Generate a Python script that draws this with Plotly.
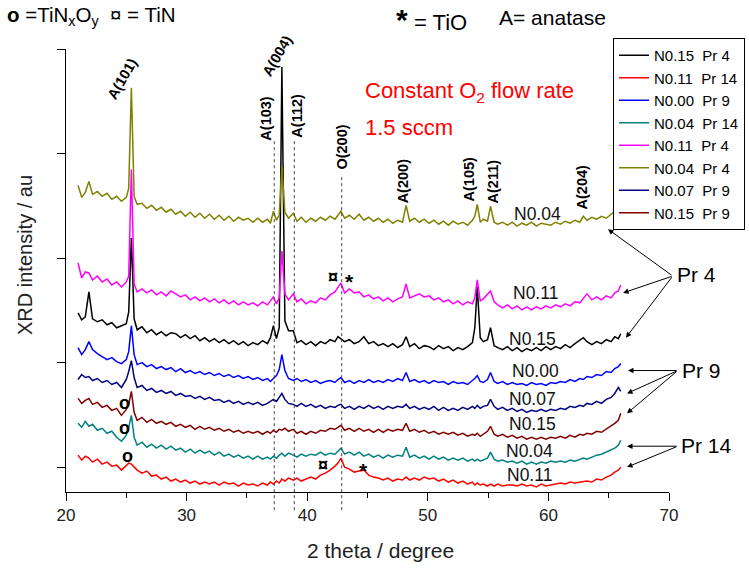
import plotly.graph_objects as go

# 2-theta grid (degree) shared by all scans
two_theta = [
    21.0, 21.3, 21.6, 21.9, 22.2, 22.6, 23.0, 23.4, 23.8, 24.2,
    24.6, 25.0, 25.2, 25.42, 25.65, 25.9, 26.3, 26.7, 27.1, 27.5,
    27.9, 28.3, 28.7, 29.1, 29.5, 29.9, 30.3, 30.7, 31.1, 31.5,
    31.9, 32.3, 32.7, 33.1, 33.5, 33.9, 34.3, 34.7, 35.1, 35.5,
    35.9, 36.3, 36.7, 36.95, 37.2, 37.45, 37.68, 37.9, 38.15, 38.45,
    38.85, 39.15, 39.5, 39.9, 40.3, 40.7, 41.1, 41.5, 41.9, 42.3,
    42.55, 42.8, 43.1, 43.5, 43.9, 44.3, 44.7, 45.1, 45.5, 45.9,
    46.3, 46.7, 47.1, 47.5, 47.9, 48.2, 48.5, 48.9, 49.3, 49.7,
    50.1, 50.5, 50.9, 51.3, 51.7, 52.1, 52.5, 52.9, 53.3, 53.7,
    53.9, 54.1, 54.35, 54.6, 54.95, 55.2, 55.5, 55.8, 56.2, 56.6,
    57.0, 57.4, 57.8, 58.2, 58.6, 59.0, 59.4, 59.8, 60.2, 60.6,
    61.0, 61.4, 61.8, 62.2, 62.6, 62.9, 63.2, 63.6, 64.0, 64.4,
    64.8, 65.2, 65.5, 65.8, 66.0,
]

# stacked intensities (arbitrary units, offset per scan)
n015_pr4 = [
    155, 148, 151, 176, 149, 146, 148, 143, 145, 140,
    142, 144, 156, 230, 149, 138, 141, 135, 138, 133,
    136, 132, 135, 134, 130, 133, 129, 132, 127, 130,
    126, 129, 125, 128, 124, 127, 123, 126, 122, 125,
    123, 127, 124, 130, 142, 129, 140, 402, 147, 137,
    137, 125, 127, 123, 126, 122, 126, 124, 128, 126,
    131, 129, 126, 128, 124, 126, 131, 124, 126, 122,
    124, 121, 124, 120, 123, 131, 121, 124, 119, 122,
    121, 118, 122, 119, 121, 117, 120, 118, 121, 125,
    140, 181, 130, 126, 128, 140, 122, 120, 118, 121,
    117, 120, 116, 119, 117, 120, 117, 121, 118, 121,
    119, 123, 120, 124, 127, 130, 126, 123, 126, 124,
    128, 126, 131, 129, 134,
]
n011_pr14 = [
    12, 7, 11, 9, 5, 8, 3, 5, 1, 2,
    -3, 2, 4, 3, 0, -3, -6, -4, -9, -8,
    -12, -10, -14, -12, -15, -13, -16, -14, -17, -15,
    -17, -15, -18, -15, -17, -16, -19, -16, -18, -17,
    -19, -16, -18, -15, -17, -14, -16, -12, -14, -11,
    -13, -11, -14, -12, -10, -12, -8, -6, -3, 1,
    4, 9, 0, -2, -5, -4, -3, -8, -10, -11,
    -13, -11, -14, -12, -13, -10, -13, -11, -13, -10,
    -12, -11, -14, -12, -15, -13, -16, -14, -17, -15,
    -18, -16, -18, -17, -19, -17, -19, -17, -19, -18,
    -18, -19, -17, -19, -18, -20, -17, -19, -18, -17,
    -16, -17, -15, -16, -15, -15, -14, -15, -12, -13,
    -10, -8, -5, -3, 0,
]
n000_pr9 = [
    120, 113, 118, 126, 118, 114, 111, 108, 110, 106,
    104, 108, 116, 142, 113, 103, 105, 101, 103, 99,
    101, 98, 100, 96, 99, 95, 97, 94, 96, 93,
    95, 92, 94, 91, 93, 90, 92, 89, 91, 88,
    90, 87, 89, 86, 89, 92, 98, 113, 97, 89,
    87, 89, 86, 88, 85, 87, 84, 86, 87, 85,
    88, 90, 85, 87, 84, 87, 85, 88, 85, 87,
    85, 88, 86, 89, 87, 95, 86, 88, 85, 87,
    84, 87, 85, 86, 83, 86, 84, 85, 83, 87,
    89, 92, 86, 85, 88, 95, 86, 84, 86, 83,
    85, 83, 84, 82, 85, 83, 84, 82, 85, 84,
    86, 85, 88, 86, 89, 88, 91, 90, 93, 92,
    96, 95, 99, 101, 104,
]
n004_pr14 = [
    44, 40, 46, 41, 43, 37, 39, 34, 36, 30,
    26, 32, 40, 52, 30, 22, 25, 20, 23, 19,
    22, 18, 21, 17, 19, 15, 18, 14, 17, 14,
    16, 12, 15, 11, 13, 10, 12, 9, 11, 8,
    11, 8, 10, 8, 11, 9, 12, 14, 11, 14,
    12, 10, 13, 11, 13, 12, 15, 12, 14, 13,
    16, 19, 13, 15, 12, 15, 11, 13, 10, 12,
    9, 12, 10, 12, 11, 20, 10, 12, 9, 11,
    8, 11, 8, 10, 7, 9, 7, 9, 6, 8,
    6, 8, 6, 7, 9, 15, 8, 6, 7, 5,
    6, 4, 6, 3, 5, 3, 5, 4, 6, 5,
    6, 5, 7, 6, 8, 9, 8, 10, 12, 13,
    15, 17, 19, 22, 27,
]
n011_pr4 = [
    205, 190, 196, 195, 188, 192, 186, 189, 183, 186,
    181, 186, 192, 299, 184, 176, 179, 175, 178, 173,
    176, 172, 177, 174, 171, 173, 168, 171, 167, 170,
    166, 169, 165, 168, 164, 167, 163, 166, 163, 165,
    162, 166, 163, 167, 171, 164, 170, 217, 174, 168,
    174, 166, 169, 164, 167, 165, 170, 168, 173, 176,
    180, 185, 175, 179, 175, 176, 171, 173, 169, 171,
    167, 170, 166, 169, 171, 184, 170, 172, 174, 171,
    172, 168, 170, 166, 168, 164, 167, 163, 166, 164,
    170, 188, 167, 169, 174, 177, 166, 163, 160, 163,
    159, 162, 158, 161, 158, 161, 159, 162, 160, 163,
    161, 164, 162, 166, 165, 170, 174, 168, 171, 168,
    172, 170, 175, 177, 183,
]
n004_pr4 = [
    283, 271, 276, 287, 274, 277, 272, 275, 269, 272,
    267, 271, 280, 381, 272, 264, 265, 260, 263, 258,
    261, 256, 259, 254, 257, 252, 256, 251, 255, 250,
    254, 249, 253, 248, 252, 247, 251, 248, 250, 246,
    250, 246, 249, 245, 257, 248, 253, 302, 256, 250,
    255, 247, 251, 246, 250, 247, 251, 248, 252, 249,
    253, 257, 250, 253, 249, 254, 248, 251, 247, 250,
    246, 249, 245, 248, 246, 263, 247, 250, 246, 249,
    245, 248, 244, 247, 243, 247, 244, 246, 243, 248,
    252, 264, 246, 249, 247, 262, 246, 244, 246, 243,
    246, 242, 245, 243, 246, 242, 245, 244, 243, 246,
    244, 247, 245, 248, 246, 252, 248, 251, 249, 252,
    250, 254, 257, 259, 264,
]
n007_pr9 = [
    88, 93, 90, 91, 87, 89, 85, 87, 83, 85,
    80, 88, 96, 107, 90, 80, 82, 77, 79, 75,
    77, 74, 76, 72, 74, 71, 72, 69, 71, 68,
    70, 67, 68, 65, 67, 64, 66, 63, 65, 63,
    65, 62, 64, 66, 68, 66, 70, 74, 68, 64,
    63, 61, 64, 61, 63, 60, 62, 59, 61, 60,
    62, 63, 59, 61, 58, 61, 59, 62, 59, 61,
    58, 61, 59, 61, 60, 63, 59, 61, 58, 60,
    58, 61, 57, 60, 57, 59, 57, 60, 58, 61,
    59, 62, 59, 61, 62, 68, 61, 58, 60, 57,
    59, 56, 58, 55, 57, 56, 58, 56, 58, 57,
    59, 58, 61, 60, 62, 61, 64, 63, 66, 64,
    68, 70, 74, 80, 76,
]
n015_pr9 = [
    69, 64, 67, 69, 63, 65, 60, 62, 57, 59,
    52, 58, 63, 76, 55, 47, 50, 45, 48, 44,
    46, 43, 45, 41, 43, 40, 42, 38, 41, 38,
    40, 37, 39, 36, 38, 35, 37, 34, 36, 34,
    36, 33, 36, 34, 37, 35, 38, 37, 39, 36,
    38, 34, 36, 33, 36, 34, 37, 36, 39, 38,
    40, 42, 37, 39, 36, 39, 36, 38, 35, 38,
    35, 38, 36, 38, 37, 44, 36, 38, 35, 37,
    34, 36, 33, 35, 33, 35, 32, 34, 31, 33,
    32, 34, 31, 33, 36, 41, 33, 31, 33, 30,
    32, 29, 31, 28, 30, 28, 30, 28, 30, 29,
    31, 29, 32, 30, 33, 32, 34, 33, 36, 35,
    38, 41, 44, 47, 54,
]

series_names = ["N0.15\u00a0\u00a0Pr 4", "N0.11\u00a0\u00a0Pr 14", "N0.00\u00a0\u00a0Pr 9",
                "N0.04\u00a0\u00a0Pr 14", "N0.11\u00a0\u00a0Pr 4", "N0.04\u00a0\u00a0Pr 4",
                "N0.07\u00a0\u00a0Pr 9", "N0.15\u00a0\u00a0Pr 9"]
series_values = [n015_pr4, n011_pr14, n000_pr9, n004_pr14, n011_pr4, n004_pr4, n007_pr9, n015_pr9]
series_colors = ["#000000", "#FF0000", "#0000FF", "#008080", "#FF00FF", "#808000", "#000080", "#800000"]

# sample labels at the right end of each scan (2theta, intensity)
sample_labels = ["N0.04", "N0.11", "N0.15", "N0.00", "N0.07", "N0.15", "N0.04", "N0.11"]
sample_label_x = [59.06, 58.9, 58.64, 58.9, 58.72, 58.64, 58.47, 58.47]
sample_label_y = [254, 175, 129, 97, 68, 43, 16, -8]

# peak index labels
peak_labels = ["A(101)", "A(004)", "A(103)", "A(112)", "O(200)", "A(200)", "A(105)", "A(211)", "A(204)"]
peak_label_x = [24.64, 37.5, 36.58, 39.15, 42.89, 47.94, 53.42, 55.41, 62.79]
peak_label_y = [390, 413, 350, 353, 321, 287, 289, 287, 281]
peak_label_angle = [-60, -60, -90, -90, -90, -90, -90, -90, -90]

# reference (dotted) lines at 2theta
ref_line_x = [37.27, 38.93, 42.86]
ref_line_top = [0.792, 0.795, 0.716]

# phase markers
phase_marks = ["o", "o", "o", "¤", "*", "¤", "*"]
phase_x = [24.89, 24.89, 25.14, 42.14, 43.5, 41.31, 44.63]
phase_y = [64, 39, 11, 191, 191, 2, 2]

assert all(len(v) == len(two_theta) for v in series_values), [len(v) for v in series_values]

FONT = "Liberation Sans, Arial, sans-serif"

fig = go.Figure()
for name, vals, col in zip(series_names, series_values, series_colors):
    fig.add_trace(go.Scatter(x=two_theta, y=vals, mode="lines", name=name,
                             line=dict(color=col, width=1.5)))

ann = []
for t, x, y in zip(sample_labels, sample_label_x, sample_label_y):
    ann.append(dict(x=x, y=y, xref="x", yref="y", text=t, showarrow=False,
                    font=dict(size=17.5, color="#111", family=FONT)))
for t, x, y, a in zip(peak_labels, peak_label_x, peak_label_y, peak_label_angle):
    ann.append(dict(x=x, y=y, xref="x", yref="y", text="<b>%s</b>" % t, showarrow=False,
                    textangle=a, font=dict(size=14.5, color="#000", family=FONT)))
for t, x, y in zip(phase_marks, phase_x, phase_y):
    sz = 21 if t == "*" else 18
    ann.append(dict(x=x, y=y, xref="x", yref="y", text="<b>%s</b>" % t, showarrow=False,
                    yshift=-5 if t == "*" else 0,
                    font=dict(size=sz, color="#000", family=FONT)))

# arrows for process groups
arrow_groups = [
    ("Pr 4", 1.046, 0.490, [(64.94, 239, 65, 47), (66.19, 175, 50, -17), (66.43, 130, 47, -62)]),
    ("Pr 9", 1.054, 0.275, [(66.6, 97, 50, 0), (66.52, 74, 51, -23), (66.52, 54, 51, -43)]),
    ("Pr 14", 1.062, 0.104, [(66.52, 21, 51, 0), (66.52, 0, 51, -21)]),
]
for label, lx, ly, heads in arrow_groups:
    ann.append(dict(x=lx, y=ly, xref="paper", yref="paper", text=label, showarrow=False,
                    xanchor="center", yanchor="middle",
                    font=dict(size=21, color="#000", family=FONT)))
    for hx, hy, ax, ay in heads:
        ann.append(dict(x=hx, y=hy, xref="x", yref="y", text="", showarrow=True,
                        ax=ax, ay=ay, axref="pixel", ayref="pixel",
                        arrowhead=2, arrowsize=1.1, arrowwidth=1, arrowcolor="#000"))

# header texts
ann += [
    dict(x=-0.101, y=1.0745, xref="paper", yref="paper", xanchor="left", yanchor="middle",
         text="<b>o</b> =TiN<sub>x</sub>O<sub>y</sub>\u00a0\u00a0¤ = TiN", showarrow=False,
         font=dict(size=20.5, color="#000", family=FONT)),
    dict(x=0.557, y=1.0677, xref="paper", yref="paper", xanchor="center", yanchor="middle",
         text="<b>*</b>", showarrow=False, font=dict(size=30, color="#000", family=FONT)),
    dict(x=0.574, y=1.0587, xref="paper", yref="paper", xanchor="left", yanchor="middle",
         text="= TiO", showarrow=False, font=dict(size=22, color="#000", family=FONT)),
    dict(x=0.715, y=1.070, xref="paper", yref="paper", xanchor="left", yanchor="middle",
         text="A= anatase", showarrow=False, font=dict(size=21, color="#000", family=FONT)),
    dict(x=0.4925, y=0.902, xref="paper", yref="paper", xanchor="left", yanchor="middle",
         text="Constant O<sub>2</sub> flow rate", showarrow=False,
         font=dict(size=22, color="#FF0000", family=FONT)),
    dict(x=0.4925, y=0.8217, xref="paper", yref="paper", xanchor="left", yanchor="middle",
         text="1.5 sccm", showarrow=False, font=dict(size=22, color="#FF0000", family=FONT)),
    dict(x=0.521, y=-0.133, xref="paper", yref="paper", xanchor="center", yanchor="middle",
         text="2 theta / degree", showarrow=False, font=dict(size=21, color="#222", family=FONT)),
    dict(x=-0.068, y=0.535, xref="paper", yref="paper", xanchor="center", yanchor="middle",
         text="XRD intensity / au", textangle=-90, showarrow=False,
         font=dict(size=20, color="#222", family=FONT)),
]

shapes = []
for x, top in zip(ref_line_x, ref_line_top):
    shapes.append(dict(type="line", xref="x", yref="paper", x0=x, x1=x, y0=-0.041, y1=top,
                       line=dict(color="#444", width=1, dash="dot")))

fig.update_layout(
    width=749, height=569,
    margin=dict(l=66, r=80, t=49, b=77, autoexpand=False),
    paper_bgcolor="white", plot_bgcolor="white",
    font=dict(family=FONT, color="#000"),
    showlegend=True,
    legend=dict(xref="container", yref="container", x=0.8184, y=0.9332,
                xanchor="left", yanchor="top",
                bgcolor="white", bordercolor="#000", borderwidth=1,
                font=dict(size=15, family=FONT, color="#000"), tracegroupgap=0),
    annotations=ann, shapes=shapes,
)
fig.update_xaxes(range=[20, 70], dtick=10, tick0=20, ticks="outside", ticklen=8,
                 tickcolor="#000", showline=True, linecolor="#000", linewidth=1,
                 showgrid=False, zeroline=False, automargin=False,
                 tickfont=dict(size=17, family=FONT, color="#222"),
                 minor=dict(dtick=5, ticks="outside", ticklen=5, tickcolor="#000"))
fig.update_yaxes(range=[-25, 420], tickvals=[0, 105, 210, 315, 420], ticks="outside",
                 ticklen=8, tickcolor="#000", showticklabels=False, showline=True,
                 linecolor="#000", linewidth=1, showgrid=False, zeroline=False,
                 automargin=False)

# remove the default 8px page margin so the figure fills the window exactly
fig.write_html("out.html", config={"displayModeBar": False},
               post_script="document.body.style.margin='0px';")
